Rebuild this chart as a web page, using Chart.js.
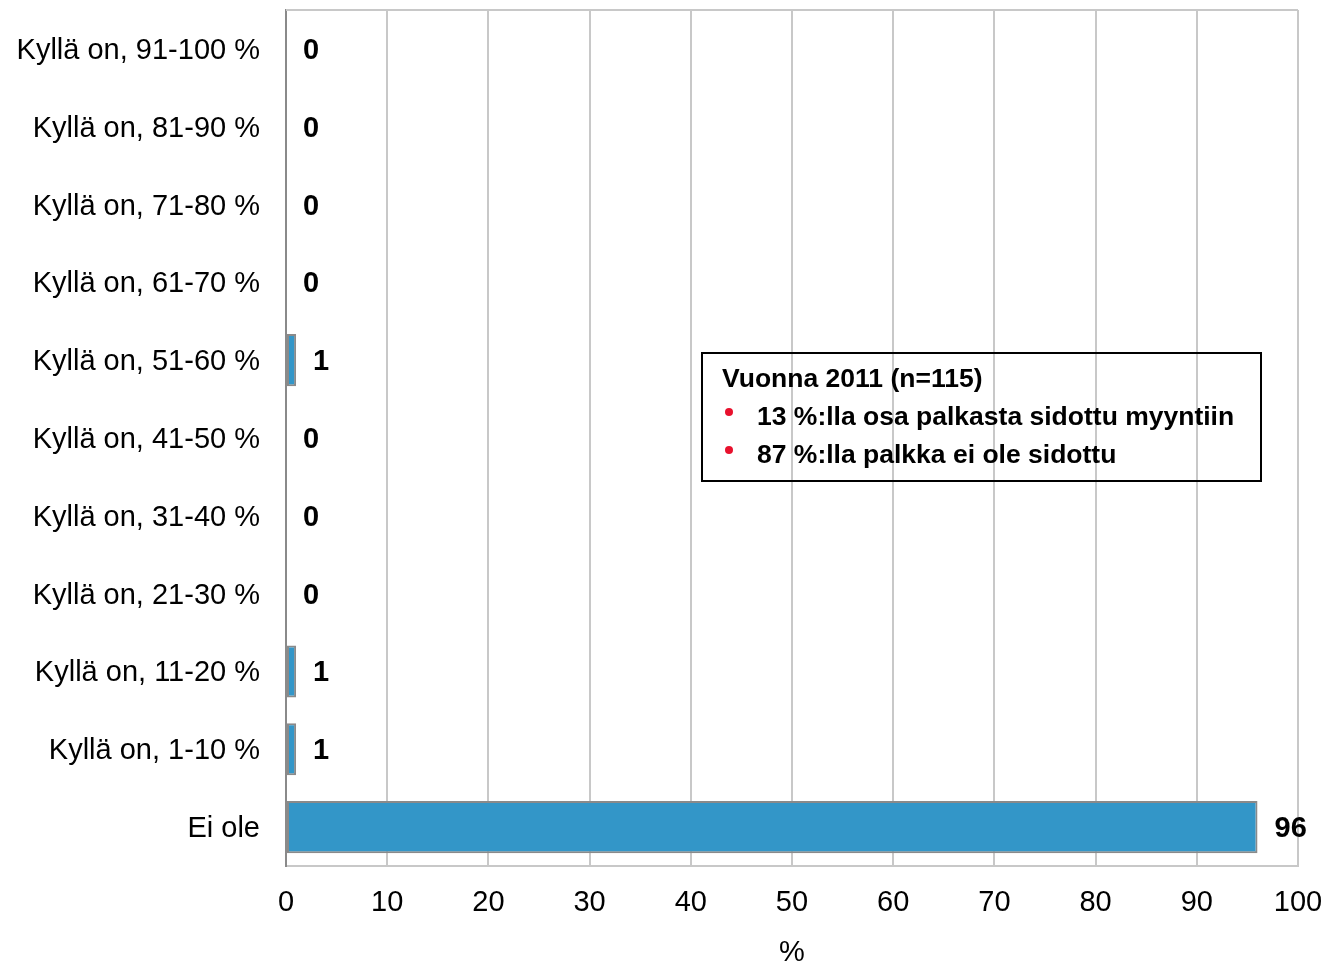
<!DOCTYPE html>
<html>
<head>
<meta charset="utf-8">
<script src="https://cdn.jsdelivr.net/npm/chart.js@4/dist/chart.umd.min.js"></script>
<style>
  html, body { margin: 0; padding: 0; background: #fff; }
  #wrap { width: 1330px; height: 961px; }
</style>
</head>
<body>
<div id="wrap"><canvas id="salaryChart"></canvas></div>
<script>
// Data
const categories = [
  "Kyllä on, 91-100 %",
  "Kyllä on, 81-90 %",
  "Kyllä on, 71-80 %",
  "Kyllä on, 61-70 %",
  "Kyllä on, 51-60 %",
  "Kyllä on, 41-50 %",
  "Kyllä on, 31-40 %",
  "Kyllä on, 21-30 %",
  "Kyllä on, 11-20 %",
  "Kyllä on, 1-10 %",
  "Ei ole",
];
const shares = [0, 0, 0, 0, 1, 0, 0, 0, 1, 1, 96];
const xTicks = [0, 10, 20, 30, 40, 50, 60, 70, 80, 90, 100];
const boxTitle = "Vuonna 2011 (n=115)";
const boxLines = ["13 %:lla osa palkasta sidottu myyntiin", "87 %:lla palkka ei ole sidottu"];

const FONT = "'Liberation Sans', Arial, sans-serif";

// value labels next to bars + top frame line
const valueLabels = {
  id: "valueLabels",
  afterDatasetsDraw(chart) {
    const ctx = chart.ctx;
    const area = chart.chartArea;
    ctx.save();
    ctx.strokeStyle = "#c8c8c8";
    ctx.lineWidth = 2;
    ctx.beginPath();
    ctx.moveTo(area.left, area.top);
    ctx.lineTo(area.right, area.top);
    ctx.stroke();

    ctx.font = "bold 29px " + FONT;
    ctx.fillStyle = "#000";
    ctx.textBaseline = "middle";
    ctx.textAlign = "left";
    chart.getDatasetMeta(0).data.forEach((bar, i) => {
      ctx.fillText(String(shares[i]), bar.x + 17, bar.y + 2);
    });
    ctx.restore();
  },
};

// text box in the middle of the plot
const infoBox = {
  id: "infoBox",
  afterDraw(chart) {
    const ctx = chart.ctx;
    ctx.save();
    ctx.strokeStyle = "#000";
    ctx.lineWidth = 2;
    ctx.strokeRect(702, 353, 559, 128);
    ctx.fillStyle = "#000";
    ctx.font = "bold 26.5px " + FONT;
    ctx.textBaseline = "middle";
    ctx.fillText(boxTitle, 722, 380);
    boxLines.forEach((t, i) => {
      const y = 418 + i * 38;
      ctx.fillStyle = "#e8112d";
      ctx.beginPath();
      ctx.arc(729, y - 6, 4, 0, Math.PI * 2);
      ctx.fill();
      ctx.fillStyle = "#000";
      ctx.fillText(t, 757, y);
    });
    ctx.restore();
  },
};

const ctx = document.getElementById("salaryChart").getContext("2d");
const salaryChart = new Chart(ctx, {
  type: "bar",
  data: {
    labels: categories,
    datasets: [
      {
        data: shares,
        backgroundColor: "#3396c8",
        borderColor: "#8a8a8a",
        borderWidth: 2,
        borderSkipped: false,
        categoryPercentage: 0.67,
        barPercentage: 1,
      },
    ],
  },
  options: {
    indexAxis: "y",
    responsive: true,
    maintainAspectRatio: false,
    animation: false,
    layout: { padding: { top: 10, right: 32, left: 0, bottom: 0 } },
    plugins: {
      legend: { display: false },
      tooltip: { enabled: false },
    },
    scales: {
      x: {
        min: 0,
        max: 100,
        afterBuildTicks: (axis) => {
          axis.ticks = xTicks.map((v) => ({ value: v }));
        },
        afterFit: (axis) => {
          axis.height = 95;
          axis.paddingLeft = 0;
          axis.paddingRight = 0;
        },
        grid: { color: "#c8c8c8", lineWidth: 2, drawTicks: false },
        border: { color: "#c8c8c8", width: 2 },
        ticks: {
          padding: 20,
          color: "#000",
          font: { family: FONT, size: 29 },
        },
        title: {
          display: true,
          text: "%",
          color: "#000",
          font: { family: FONT, size: 29 },
          padding: { top: 8, bottom: -9 },
        },
      },
      y: {
        afterFit: (axis) => {
          axis.width = 286;
          axis.paddingTop = 0;
          axis.paddingBottom = 0;
        },
        grid: { display: false, drawTicks: false },
        border: { color: "#8a8a8a", width: 2 },
        ticks: {
          padding: 26,
          labelOffset: 2,
          color: "#000",
          font: { family: FONT, size: 29 },
        },
      },
    },
  },
  plugins: [valueLabels, infoBox],
});
</script>
</body>
</html>
